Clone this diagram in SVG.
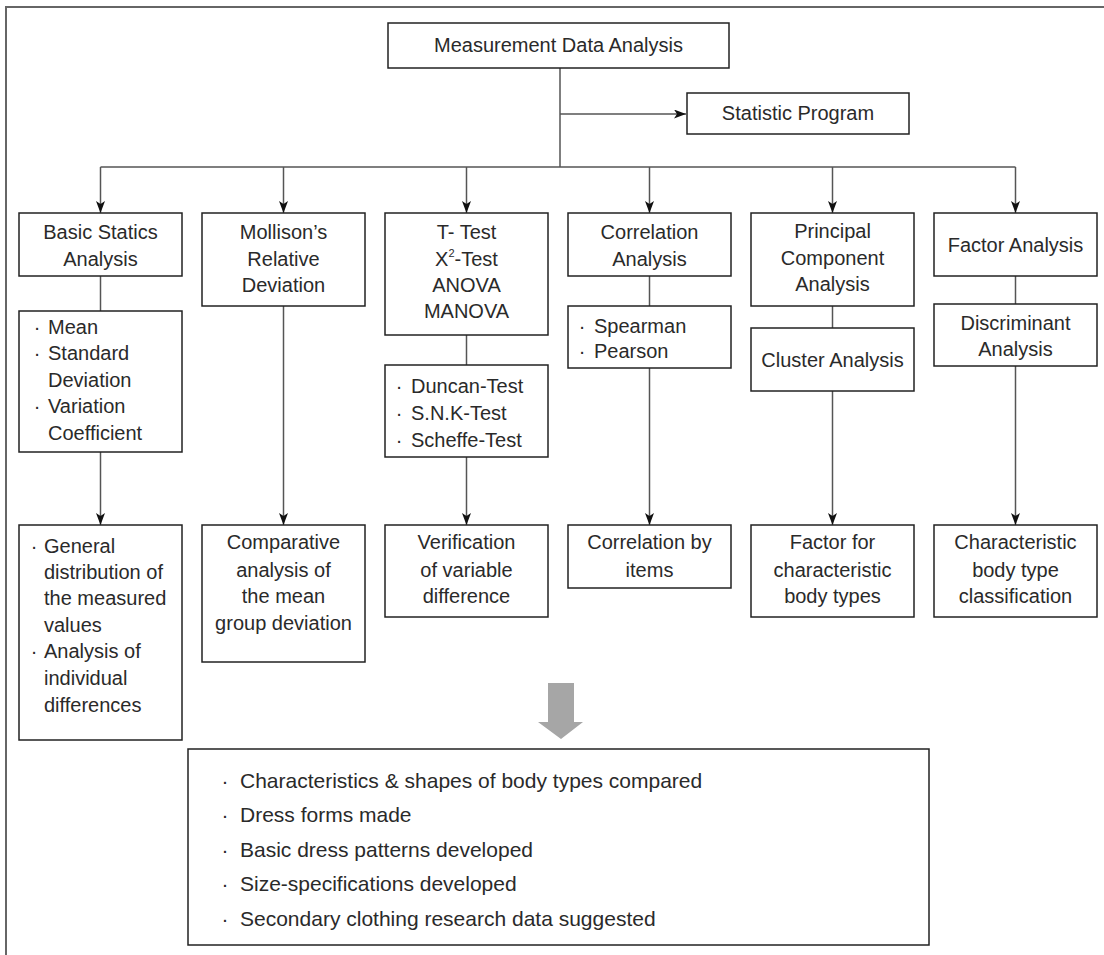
<svg xmlns="http://www.w3.org/2000/svg" width="1104" height="955" viewBox="0 0 1104 955">
<style>
.box{fill:#fff;stroke:#222;stroke-width:1.5}
.t{font-family:"Liberation Sans",Arial,sans-serif;font-size:20px;fill:#2a2a2a}
.c{text-anchor:middle}
.b{text-anchor:middle}
.ln{stroke:#555;stroke-width:1.5;fill:none}
.big{font-size:21px}
</style>
<defs>
<marker id="ah" markerUnits="userSpaceOnUse" markerWidth="12" markerHeight="9" refX="12" refY="4.5" orient="auto">
<path d="M0,0 L12,4.5 L0,9 L3,4.5 z" fill="#111"/>
</marker>
</defs>
<rect width="1104" height="955" fill="#fff"/>
<path d="M6,955 V7 H1104" fill="none" stroke="#666" stroke-width="2"/>

<g id="connectors">
<path class="ln" d="M560,68 V167"/>
<path class="ln" d="M560,114 H686" marker-end="url(#ah)"/>
<path class="ln" d="M100.5,167 H1015.5"/>
<path class="ln" d="M100.5,167 V213" marker-end="url(#ah)"/>
<path class="ln" d="M283.5,167 V213" marker-end="url(#ah)"/>
<path class="ln" d="M466.5,167 V213" marker-end="url(#ah)"/>
<path class="ln" d="M649.5,167 V213" marker-end="url(#ah)"/>
<path class="ln" d="M832.5,167 V213" marker-end="url(#ah)"/>
<path class="ln" d="M1015.5,167 V213" marker-end="url(#ah)"/>
<path class="ln" d="M100.5,276 V311"/>
<path class="ln" d="M466.5,335 V365"/>
<path class="ln" d="M649.5,276 V306"/>
<path class="ln" d="M832.5,306 V328"/>
<path class="ln" d="M1015.5,276 V304"/>
<path class="ln" d="M100.5,452 V525" marker-end="url(#ah)"/>
<path class="ln" d="M283.5,306 V525" marker-end="url(#ah)"/>
<path class="ln" d="M466.5,457 V525" marker-end="url(#ah)"/>
<path class="ln" d="M649.5,368 V525" marker-end="url(#ah)"/>
<path class="ln" d="M832.5,391 V525" marker-end="url(#ah)"/>
<path class="ln" d="M1015.5,366 V525" marker-end="url(#ah)"/>
<path d="M548,683 H574 V722 H583 L561,739 L538,722 H548 Z" fill="#a6a6a6"/>
</g>

<g id="measurement">
<rect class="box" x="388" y="23" width="341" height="45"/>
<text class="t c" x="558.5" y="52">Measurement Data Analysis</text>
</g>
<g id="statistic">
<rect class="box" x="687" y="93" width="222" height="41"/>
<text class="t c" x="798" y="120">Statistic Program</text>
</g>

<g id="basic">
<rect class="box" x="19" y="213" width="163" height="63"/>
<text class="t c" x="100.5" y="239">Basic Statics</text>
<text class="t c" x="100.5" y="266">Analysis</text>
</g>
<g id="mollison">
<rect class="box" x="202" y="213" width="163" height="93"/>
<text class="t c" x="283.5" y="239">Mollison’s</text>
<text class="t c" x="283.5" y="266">Relative</text>
<text class="t c" x="283.5" y="292">Deviation</text>
</g>
<g id="ttest">
<rect class="box" x="385" y="213" width="163" height="122"/>
<text class="t c" x="466.5" y="239">T- Test</text>
<text class="t c" x="466.5" y="266">X<tspan font-size="11" dy="-9">2</tspan><tspan dy="9">-Test</tspan></text>
<text class="t c" x="466.5" y="292">ANOVA</text>
<text class="t c" x="466.5" y="318">MANOVA</text>
</g>
<g id="correlation">
<rect class="box" x="568" y="213" width="163" height="63"/>
<text class="t c" x="649.5" y="239">Correlation</text>
<text class="t c" x="649.5" y="266">Analysis</text>
</g>
<g id="principal">
<rect class="box" x="751" y="213" width="163" height="93"/>
<text class="t c" x="832.5" y="238">Principal</text>
<text class="t c" x="832.5" y="265">Component</text>
<text class="t c" x="832.5" y="291">Analysis</text>
</g>
<g id="factor">
<rect class="box" x="934" y="213" width="163" height="63"/>
<text class="t c" x="1015.5" y="252">Factor Analysis</text>
</g>

<g id="mean">
<rect class="box" x="19" y="311" width="163" height="141"/>
<text class="t b" x="37" y="334">·</text><text class="t" x="48" y="334">Mean</text>
<text class="t b" x="37" y="360">·</text><text class="t" x="48" y="360">Standard</text>
<text class="t" x="48" y="387">Deviation</text>
<text class="t b" x="37" y="413">·</text><text class="t" x="48" y="413">Variation</text>
<text class="t" x="48" y="440">Coefficient</text>
</g>
<g id="duncan">
<rect class="box" x="385" y="365" width="163" height="92"/>
<text class="t b" x="399" y="393">·</text><text class="t" x="411" y="393">Duncan-Test</text>
<text class="t b" x="399" y="420">·</text><text class="t" x="411" y="420">S.N.K-Test</text>
<text class="t b" x="399" y="447">·</text><text class="t" x="411" y="447">Scheffe-Test</text>
</g>
<g id="spearman">
<rect class="box" x="568" y="306" width="163" height="62"/>
<text class="t b" x="582" y="333">·</text><text class="t" x="594" y="333">Spearman</text>
<text class="t b" x="582" y="358">·</text><text class="t" x="594" y="358">Pearson</text>
</g>
<g id="cluster">
<rect class="box" x="751" y="328" width="163" height="63"/>
<text class="t c" x="832.5" y="367">Cluster Analysis</text>
</g>
<g id="discriminant">
<rect class="box" x="934" y="304" width="163" height="62"/>
<text class="t c" x="1015.5" y="330">Discriminant</text>
<text class="t c" x="1015.5" y="356">Analysis</text>
</g>

<g id="general">
<rect class="box" x="19" y="525" width="163" height="215"/>
<text class="t b" x="34" y="553">·</text><text class="t" x="44" y="553">General</text>
<text class="t" x="44" y="579">distribution of</text>
<text class="t" x="44" y="605">the measured</text>
<text class="t" x="44" y="632">values</text>
<text class="t b" x="34" y="658">·</text><text class="t" x="44" y="658">Analysis of</text>
<text class="t" x="44" y="685">individual</text>
<text class="t" x="44" y="712">differences</text>
</g>
<g id="comparative">
<rect class="box" x="202" y="525" width="163" height="137"/>
<text class="t c" x="283.5" y="549">Comparative</text>
<text class="t c" x="283.5" y="577">analysis of</text>
<text class="t c" x="283.5" y="603">the mean</text>
<text class="t c" x="283.5" y="630">group deviation</text>
</g>
<g id="verification">
<rect class="box" x="385" y="525" width="163" height="92"/>
<text class="t c" x="466.5" y="549">Verification</text>
<text class="t c" x="466.5" y="577">of variable</text>
<text class="t c" x="466.5" y="603">difference</text>
</g>
<g id="corritems">
<rect class="box" x="568" y="525" width="163" height="63"/>
<text class="t c" x="649.5" y="549">Correlation by</text>
<text class="t c" x="649.5" y="577">items</text>
</g>
<g id="factorfor">
<rect class="box" x="751" y="525" width="163" height="92"/>
<text class="t c" x="832.5" y="549">Factor for</text>
<text class="t c" x="832.5" y="577">characteristic</text>
<text class="t c" x="832.5" y="603">body types</text>
</g>
<g id="characteristic">
<rect class="box" x="934" y="525" width="163" height="92"/>
<text class="t c" x="1015.5" y="549">Characteristic</text>
<text class="t c" x="1015.5" y="577">body type</text>
<text class="t c" x="1015.5" y="603">classification</text>
</g>

<g id="results">
<rect class="box" x="188" y="749" width="741" height="196"/>
<text class="t big b" x="225" y="788">·</text><text class="t big" x="240" y="788">Characteristics &amp; shapes of body types compared</text>
<text class="t big b" x="225" y="822">·</text><text class="t big" x="240" y="822">Dress forms made</text>
<text class="t big b" x="225" y="857">·</text><text class="t big" x="240" y="857">Basic dress patterns developed</text>
<text class="t big b" x="225" y="891">·</text><text class="t big" x="240" y="891">Size-specifications developed</text>
<text class="t big b" x="225" y="926">·</text><text class="t big" x="240" y="926">Secondary clothing research data suggested</text>
</g>
</svg>
